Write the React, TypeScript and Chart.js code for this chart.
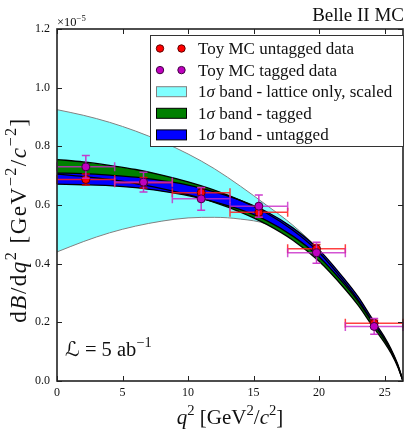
import React, { useEffect, useRef } from 'react';
import { Chart, registerables } from 'chart.js';

Chart.register(...registerables);

// q^2 grid for the bands (GeV^2/c^2)
const Q_GRID = [0, 2, 4, 6, 8, 10, 12, 14, 16, 18, 20, 22, 23, 24, 25, 25.5, 26, 26.4];
// dB/dq^2 values in units of 1e-5
const LATTICE_UP = [0.925, 0.906, 0.882, 0.852, 0.816, 0.774, 0.724, 0.664, 0.599, 0.531, 0.447, 0.342, 0.284, 0.214, 0.147, 0.106, 0.055, 0];
const LATTICE_LO = [0.44, 0.475, 0.505, 0.528, 0.545, 0.556, 0.558, 0.552, 0.535, 0.485, 0.41, 0.314, 0.259, 0.194, 0.132, 0.096, 0.05, 0];
const TAGGED_UP = [0.755, 0.747, 0.735, 0.721, 0.702, 0.679, 0.651, 0.616, 0.572, 0.514, 0.438, 0.334, 0.275, 0.206, 0.14, 0.102, 0.052, 0];
const TAGGED_LO = [0.705, 0.697, 0.687, 0.673, 0.656, 0.635, 0.609, 0.576, 0.534, 0.48, 0.408, 0.312, 0.257, 0.192, 0.13, 0.094, 0.048, 0];
const UNTAGGED_UP = [0.709, 0.707, 0.702, 0.695, 0.683, 0.668, 0.645, 0.616, 0.577, 0.522, 0.447, 0.344, 0.286, 0.216, 0.149, 0.108, 0.057, 0];
const UNTAGGED_LO = [0.671, 0.669, 0.666, 0.659, 0.647, 0.632, 0.611, 0.584, 0.547, 0.494, 0.423, 0.326, 0.27, 0.204, 0.141, 0.102, 0.053, 0];

// Toy MC points
const BIN_CENTERS = [2.2, 6.6, 11.0, 15.4, 19.8, 24.2];
const BIN_HALF = [2.2, 2.2, 2.2, 2.2, 2.2, 2.2];
const UNTAGGED_DATA = [0.687, 0.676, 0.642, 0.575, 0.451, 0.197];
const UNTAGGED_ERR = [0.019, 0.018, 0.017, 0.016, 0.014, 0.01];
const TAGGED_DATA = [0.73, 0.678, 0.621, 0.596, 0.437, 0.186];
const TAGGED_ERR = [0.039, 0.034, 0.039, 0.038, 0.036, 0.027];

const X_TICKS = [0, 5, 10, 15, 20, 25];
const Y_TICKS = [0, 0.2, 0.4, 0.6, 0.8, 1.0, 1.2];

const LEGEND_LABELS = [
  'Toy MC untagged data',
  'Toy MC tagged data',
  ' band - lattice only, scaled',
  ' band - tagged',
  ' band - untagged',
];

const FONT = '"Liberation Serif", "DejaVu Serif", "DejaVu Sans", serif';

type Seg = { t: string; it?: boolean; sup?: boolean };

function segFont(s: Seg, size: number) {
  const sz = s.sup ? size * 0.7 : size;
  return `${s.it ? 'italic ' : ''}${sz}px ${FONT}`;
}
function richWidth(ctx: CanvasRenderingContext2D, segs: Seg[], size: number) {
  let w = 0;
  for (const s of segs) {
    ctx.font = segFont(s, size);
    w += ctx.measureText(s.t).width;
  }
  return w;
}
function drawRich(ctx: CanvasRenderingContext2D, segs: Seg[], x: number, y: number, size: number, align: string) {
  const w = richWidth(ctx, segs, size);
  let cx = align === 'center' ? x - w / 2 : align === 'right' ? x - w : x;
  ctx.textAlign = 'left';
  ctx.textBaseline = 'alphabetic';
  for (const s of segs) {
    ctx.font = segFont(s, size);
    ctx.fillText(s.t, cx, s.sup ? y - size * 0.42 : y);
    cx += ctx.measureText(s.t).width;
  }
}

const pts = (ys: number[]) => Q_GRID.map((x, i) => ({ x, y: ys[i] }));

const decor = {
  id: 'decor',
  beforeDatasetDraw(chart: any, args: any) {
    const ds = chart.data.datasets[args.index];
    if (!ds.errY) return;
    const ctx = chart.ctx as CanvasRenderingContext2D;
    const xs = chart.scales.x;
    const ys = chart.scales.y;
    ctx.save();
    ctx.lineWidth = 1.5;
    ds.data.forEach((p: any, i: number) => {
      const px = xs.getPixelForValue(p.x);
      const py = ys.getPixelForValue(p.y);
      const x1 = xs.getPixelForValue(p.x - ds.errX[i]);
      const x2 = xs.getPixelForValue(p.x + ds.errX[i]);
      const yt = ys.getPixelForValue(p.y + ds.errY[i]);
      const yb = ys.getPixelForValue(p.y - ds.errY[i]);
      ctx.strokeStyle = ds.errColorH;
      ctx.beginPath();
      ctx.moveTo(x1, py); ctx.lineTo(x2, py);
      ctx.moveTo(x1, py - 4.5); ctx.lineTo(x1, py + 4.5);
      ctx.moveTo(x2, py - 4.5); ctx.lineTo(x2, py + 4.5);
      ctx.stroke();
      ctx.strokeStyle = ds.errColorV;
      ctx.beginPath();
      ctx.moveTo(px, yt); ctx.lineTo(px, yb);
      ctx.moveTo(px - 4, yt); ctx.lineTo(px + 4, yt);
      ctx.moveTo(px - 4, yb); ctx.lineTo(px + 4, yb);
      ctx.stroke();
    });
    ctx.restore();
  },
  afterDatasetsDraw(chart: any) {
    const ctx = chart.ctx as CanvasRenderingContext2D;
    const { left, right, top, bottom } = chart.chartArea;
    const xs = chart.scales.x;
    const ys = chart.scales.y;
    ctx.save();
    ctx.strokeStyle = '#222';
    ctx.lineWidth = 1;
    ctx.beginPath();
    for (const v of X_TICKS) {
      const px = Math.round(xs.getPixelForValue(v)) + 0.5;
      ctx.moveTo(px, bottom); ctx.lineTo(px, bottom - 5);
      ctx.moveTo(px, top); ctx.lineTo(px, top + 5);
    }
    for (const v of Y_TICKS) {
      const py = Math.round(ys.getPixelForValue(v)) + 0.5;
      ctx.moveTo(left, py); ctx.lineTo(left + 5, py);
      ctx.moveTo(right, py); ctx.lineTo(right - 5, py);
    }
    ctx.stroke();
    ctx.lineWidth = 1.6;
    ctx.strokeRect(left, top, right - left, bottom - top);
    ctx.restore();
  },
  afterDraw(chart: any) {
    const ctx = chart.ctx as CanvasRenderingContext2D;
    const { left, right, top, bottom } = chart.chartArea;
    ctx.save();
    // Legend
    const bx = 150.5, by = 35.5, bw = 253, bh = 111;
    ctx.fillStyle = '#fff';
    ctx.fillRect(bx, by, bw, bh);
    ctx.strokeStyle = '#333';
    ctx.lineWidth = 1;
    ctx.strokeRect(bx, by, bw, bh);
    const rowY0 = 48.5, dy = 21.6;
    const markerStyles = [
      { fill: '#ff0000', edge: '#600000' },
      { fill: '#bf00bf', edge: '#400040' },
    ];
    const rects = [
      { fill: 'rgb(128,255,255)', edge: '#808080' },
      { fill: '#008000', edge: '#000' },
      { fill: '#0000ff', edge: '#000' },
    ];
    LEGEND_LABELS.forEach((lab, i) => {
      const ry = rowY0 + i * dy;
      if (i < 2) {
        const st = markerStyles[i];
        for (const mx of [160, 181.5]) {
          ctx.beginPath();
          ctx.arc(mx, ry, 3.7, 0, Math.PI * 2);
          ctx.fillStyle = st.fill;
          ctx.fill();
          ctx.strokeStyle = st.edge;
          ctx.lineWidth = 1;
          ctx.stroke();
        }
      } else {
        const st = rects[i - 2];
        ctx.fillStyle = st.fill;
        ctx.fillRect(156.5, ry - 5, 30, 10);
        ctx.strokeStyle = st.edge;
        ctx.lineWidth = 1;
        ctx.strokeRect(156.5, ry - 5, 30, 10);
      }
      ctx.fillStyle = '#111';
      const segs: Seg[] = i < 2 ? [{ t: lab }] : [{ t: '1' }, { t: 'σ', it: true }, { t: lab }];
      drawRich(ctx, segs, 198, ry + 5.5, 17, 'left');
    });
    // texts
    ctx.fillStyle = '#111';
    drawRich(ctx, [{ t: 'Belle II MC' }], 404, 21, 19, 'right');
    drawRich(ctx, [{ t: '×10' }, { t: '−5', sup: true }], left, 26, 12.5, 'left');
    drawRich(ctx, [{ t: 'ℒ' }, { t: ' = 5 ab' }, { t: '−1', sup: true }], 65, 356, 20.5, 'left');
    drawRich(
      ctx,
      [{ t: 'q', it: true }, { t: '2', sup: true }, { t: ' [GeV' }, { t: '2', sup: true }, { t: '/' }, { t: 'c', it: true }, { t: '2', sup: true }, { t: ']' }],
      (left + right) / 2, 424, 21, 'center'
    );
    ctx.translate(26, 220);
    ctx.rotate(-Math.PI / 2);
    (ctx as any).letterSpacing = '1.5px';
    drawRich(
      ctx,
      [{ t: 'd' }, { t: 'B', it: true }, { t: '/d' }, { t: 'q', it: true }, { t: '2', sup: true }, { t: ' [GeV' }, { t: '−2', sup: true }, { t: '/' }, { t: 'c', it: true }, { t: '−2', sup: true }, { t: ']' }],
      0, 0, 23, 'center'
    );
    (ctx as any).letterSpacing = '0px';
    ctx.restore();
  },
};

export default function App() {
  const ref = useRef<HTMLCanvasElement>(null);
  useEffect(() => {
    document.body.style.margin = '0';
    const canvas = ref.current!;
    const band = (ys: number[], color: string, order: number) => ({
      type: 'line', data: pts(ys), borderWidth: 0, borderColor: 'rgba(0,0,0,0)',
      backgroundColor: color, fill: '+1', pointRadius: 0, pointHoverRadius: 0,
      cubicInterpolationMode: 'monotone', order,
    });
    const lineDs = (ys: number[], color: string, width: number, order: number) => ({
      type: 'line', data: pts(ys), borderWidth: width, borderColor: color,
      fill: false, pointRadius: 0, pointHoverRadius: 0,
      cubicInterpolationMode: 'monotone', order,
    });
    const datasets: any[] = [
      band(LATTICE_UP, 'rgb(128,255,255)', 20),
      lineDs(LATTICE_LO, '#808080', 1, 19),
      lineDs(LATTICE_UP, '#808080', 1, 18),
      band(TAGGED_UP, '#008000', 17),
      lineDs(TAGGED_LO, 'rgba(0,0,0,0)', 0, 16),
      band(UNTAGGED_UP, '#0000ff', 15),
      lineDs(UNTAGGED_LO, 'rgba(0,0,0,0)', 0, 14),
      lineDs(TAGGED_UP, '#000', 1.3, 10),
      lineDs(TAGGED_LO, '#000', 1.3, 9),
      lineDs(UNTAGGED_UP, '#000', 1.3, 8),
      lineDs(UNTAGGED_LO, '#000', 1.3, 7),
      {
        type: 'scatter', label: 'untagged',
        data: BIN_CENTERS.map((x, i) => ({ x, y: UNTAGGED_DATA[i] })),
        errX: BIN_HALF, errY: UNTAGGED_ERR,
        errColorH: 'rgba(255,30,30,0.85)', errColorV: 'rgba(230,0,0,0.9)',
        pointRadius: 4, pointBackgroundColor: '#ff0000', pointBorderColor: '#600000', pointBorderWidth: 1,
        order: 2,
      },
      {
        type: 'scatter', label: 'tagged',
        data: BIN_CENTERS.map((x, i) => ({ x, y: TAGGED_DATA[i] })),
        errX: BIN_HALF, errY: TAGGED_ERR,
        errColorH: 'rgba(200,40,200,0.8)', errColorV: 'rgba(200,40,200,0.9)',
        pointRadius: 4, pointBackgroundColor: '#bf00bf', pointBorderColor: '#400040', pointBorderWidth: 1,
        order: 1,
      },
    ];
    const chart = new Chart(canvas, {
      type: 'scatter',
      data: { datasets },
      options: {
        animation: false,
        responsive: false,
        devicePixelRatio: 1,
        layout: { padding: { top: 29, right: 1.5, left: 0, bottom: 0 } },
        plugins: { legend: { display: false }, tooltip: { enabled: false }, filler: { propagate: false } },
        scales: {
          x: {
            type: 'linear', min: 0, max: 26.4,
            grid: { display: false, drawTicks: false }, border: { display: false },
            afterBuildTicks: (s: any) => { s.ticks = X_TICKS.map((v) => ({ value: v })); },
            afterFit: (s: any) => { s.height = 48; },
            ticks: { padding: 5, autoSkip: false, maxRotation: 0, color: '#111', font: { family: FONT, size: 12 }, callback: (v: any) => String(v) },
          },
          y: {
            type: 'linear', min: 0, max: 1.2,
            grid: { display: false, drawTicks: false }, border: { display: false },
            afterBuildTicks: (s: any) => { s.ticks = Y_TICKS.map((v) => ({ value: v })); },
            afterFit: (s: any) => { s.width = 57; },
            ticks: { padding: 7, autoSkip: false, color: '#111', font: { family: FONT, size: 12 }, callback: (v: any) => Number(v).toFixed(1) },
          },
        },
      } as any,
      plugins: [decor as any],
    });
    return () => chart.destroy();
  }, []);
  return <canvas ref={ref} width={408} height={429} style={{ display: 'block', width: 408, height: 429 }} />;
}
